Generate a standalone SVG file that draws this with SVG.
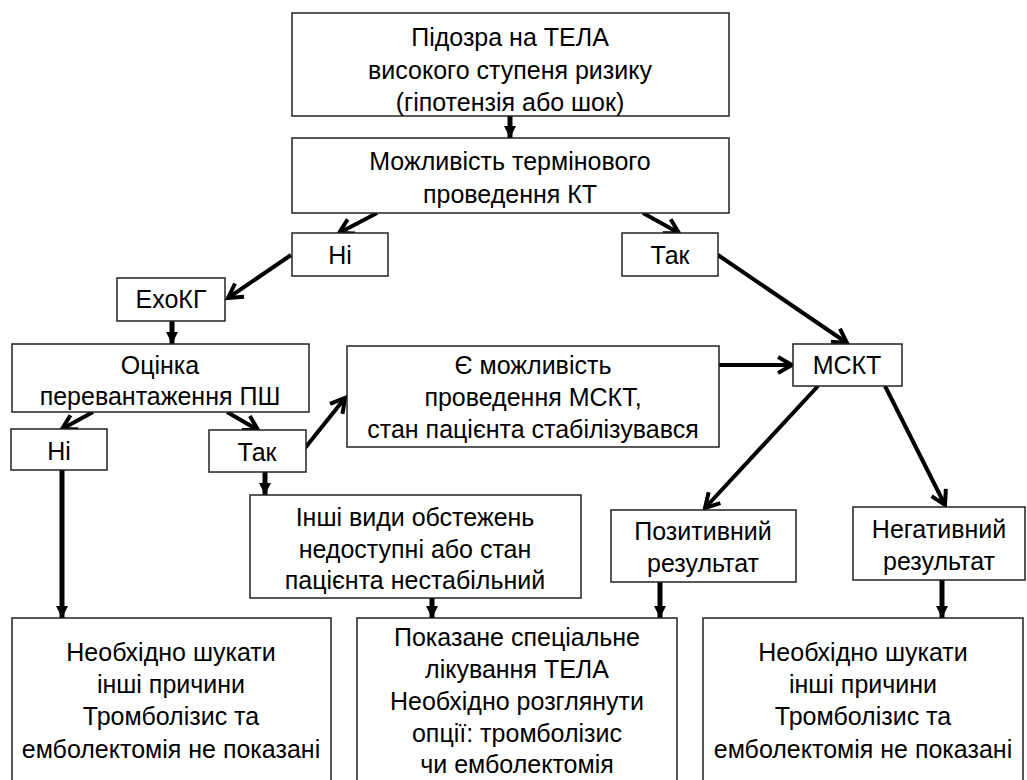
<svg xmlns="http://www.w3.org/2000/svg" width="1027" height="780" viewBox="0 0 1027 780">
<defs>
<style>
.box{fill:#fff;stroke:#222;stroke-width:1.5}
text{font-family:"Liberation Sans",Arial,sans-serif;font-size:25px;fill:#000;text-anchor:middle}
.ar{stroke:#000;stroke-width:4;fill:none;marker-end:url(#open)}
.vr{stroke:#000;stroke-width:5;fill:none;marker-end:url(#tri)}
</style>
<marker id="open" markerUnits="userSpaceOnUse" markerWidth="22" markerHeight="22" viewBox="0 0 22 22" refX="18" refY="11" orient="auto">
<path d="M4,3 L18,11 L4,19" fill="none" stroke="#000" stroke-width="4" stroke-linejoin="miter"/>
</marker>
<marker id="tri" markerUnits="userSpaceOnUse" markerWidth="12" markerHeight="12" viewBox="0 0 12 12" refX="12" refY="6" orient="auto">
<path d="M0,0 L12,6 L0,12 Z" fill="#000"/>
</marker>
</defs>
<rect width="1027" height="780" fill="#fff"/>
<g id="connectors">
<line class="vr" x1="510" y1="116" x2="510" y2="138"/>
<line class="ar" x1="377" y1="213" x2="339" y2="233"/>
<line class="ar" x1="643" y1="213" x2="679" y2="233"/>
<line class="ar" x1="291" y1="255" x2="228" y2="298"/>
<line class="vr" x1="172" y1="321" x2="172" y2="344"/>
<line class="ar" x1="93" y1="412" x2="62" y2="429"/>
<line class="ar" x1="227" y1="412" x2="258" y2="430"/>
<line class="ar" x1="305" y1="448" x2="345" y2="398"/>
<line class="ar" x1="719" y1="365" x2="792" y2="365"/>
<line class="ar" x1="718" y1="255" x2="847" y2="343"/>
<line class="ar" x1="818" y1="386" x2="705" y2="508"/>
<line class="ar" x1="885" y1="386" x2="945" y2="505"/>
<line class="vr" x1="265" y1="472" x2="265" y2="495"/>
<line class="vr" x1="62" y1="470" x2="62" y2="618"/>
<line class="vr" x1="432" y1="598" x2="432" y2="618"/>
<line class="vr" x1="660" y1="582" x2="660" y2="618"/>
<line class="vr" x1="942" y1="580" x2="942" y2="618"/>
</g>
<g id="n1">
<rect class="box" x="292" y="13" width="437" height="103"/>
<text x="510" y="46">Підозра на ТЕЛА</text>
<text x="510" y="79">високого ступеня ризику</text>
<text x="510" y="111">(гіпотензія або шок)</text>
</g>
<g id="n2">
<rect class="box" x="292" y="138" width="437" height="75"/>
<text x="510" y="170">Можливість термінового</text>
<text x="510" y="203">проведення КТ</text>
</g>
<g id="n3">
<rect class="box" x="292" y="233" width="96" height="43"/>
<text x="340" y="264">Ні</text>
</g>
<g id="n4">
<rect class="box" x="622" y="233" width="96" height="43"/>
<text x="670" y="264">Так</text>
</g>
<g id="n5">
<rect class="box" x="117" y="278" width="108" height="43"/>
<text x="171" y="308">ЕхоКГ</text>
</g>
<g id="n6">
<rect class="box" x="12" y="344" width="297" height="68"/>
<text x="160" y="374">Оцінка</text>
<text x="160" y="405">перевантаження ПШ</text>
</g>
<g id="n7">
<rect class="box" x="11" y="429" width="96" height="41"/>
<text x="59" y="460">Ні</text>
</g>
<g id="n8">
<rect class="box" x="209" y="430" width="97" height="42"/>
<text x="257" y="461">Так</text>
</g>
<g id="n9">
<rect class="box" x="347" y="346" width="372" height="101"/>
<text x="533" y="374">Є можливість</text>
<text x="533" y="406">проведення МСКТ,</text>
<text x="533" y="438">стан пацієнта стабілізувався</text>
</g>
<g id="n10">
<rect class="box" x="793" y="344" width="109" height="42"/>
<text x="847" y="374">МСКТ</text>
</g>
<g id="n11">
<rect class="box" x="250" y="495" width="331" height="103"/>
<text x="415" y="526">Інші види обстежень</text>
<text x="415" y="558">недоступні або стан</text>
<text x="415" y="589">пацієнта нестабільний</text>
</g>
<g id="n12">
<rect class="box" x="611" y="510" width="185" height="72"/>
<text x="703" y="540">Позитивний</text>
<text x="703" y="572">результат</text>
</g>
<g id="n13">
<rect class="box" x="853" y="507" width="172" height="73"/>
<text x="939" y="538">Негативний</text>
<text x="939" y="570">результат</text>
</g>
<g id="n14">
<rect class="box" x="12" y="618" width="319" height="200"/>
<text x="171" y="661">Необхідно шукати</text>
<text x="171" y="693">інші причини</text>
<text x="171" y="725">Тромболізис та</text>
<text x="171" y="758">емболектомія не показані</text>
</g>
<g id="n15">
<rect class="box" x="357" y="618" width="320" height="200"/>
<text x="517" y="646">Показане спеціальне</text>
<text x="517" y="678">лікування ТЕЛА</text>
<text x="517" y="710">Необхідно розглянути</text>
<text x="517" y="742">опції: тромболізис</text>
<text x="517" y="773">чи емболектомія</text>
</g>
<g id="n16">
<rect class="box" x="703" y="618" width="320" height="200"/>
<text x="863" y="661">Необхідно шукати</text>
<text x="863" y="693">інші причини</text>
<text x="863" y="725">Тромболізис та</text>
<text x="863" y="758">емболектомія не показані</text>
</g>
</svg>
